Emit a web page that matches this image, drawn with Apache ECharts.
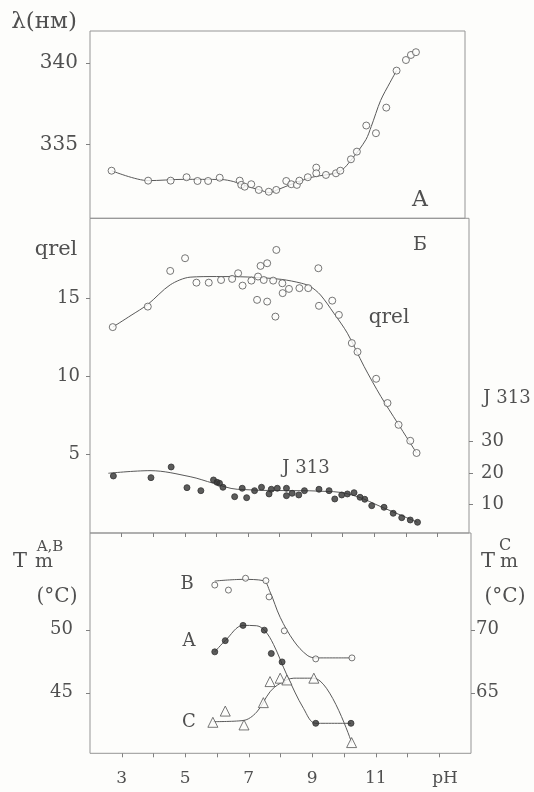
<!DOCTYPE html>
<html><head><meta charset="utf-8">
<script src="https://cdn.jsdelivr.net/npm/echarts@6/dist/echarts.min.js"></script>
<style>html,body{margin:0;padding:0;background:#fdfdfb;}#c{width:534px;height:792px;}</style>
</head><body><div id="c"></div>
<script>
const FONT = '"DejaVu Serif", "Liberation Serif", serif';
const INK = '#505050';

// Panel A: emission maximum lambda (nm) vs pH
const lambdaPH  = [2.69,3.86,4.58,5.09,5.44,5.78,6.15,6.79,6.84,6.95,7.16,7.40,7.72,7.96,8.28,8.44,8.62,8.70,8.97,9.24,9.24,9.55,9.87,10.01,10.35,10.54,10.84,11.15,11.48,11.81,12.11,12.27,12.43];
const lambdaVal = [333.39,332.78,332.78,332.99,332.76,332.76,332.96,332.78,332.52,332.41,332.56,332.21,332.10,332.21,332.76,332.56,332.52,332.78,332.99,333.58,333.23,333.13,333.23,333.39,334.09,334.56,336.16,335.69,337.26,339.53,340.18,340.49,340.66];
const lambdaFitPH  = [2.69,3.86,5.0,6.2,6.6,7.0,7.43,7.74,8.04,8.5,9.13,9.98,10.4,10.83,11.0,11.3,11.6,11.81];
const lambdaFitVal = [333.39,332.78,332.86,332.85,332.72,332.45,332.21,332.05,332.25,332.6,333.0,333.33,334.15,335.3,336.1,337.7,338.8,339.53];

// Panel B: qrel (left axis) and J313 (right axis)
const qrelPH  = [2.72,3.83,4.54,5.01,5.37,5.76,6.15,6.50,6.69,6.83,7.11,7.29,7.32,7.40,7.50,7.61,7.61,7.80,7.87,7.90,8.09,8.10,8.30,8.63,8.91,9.23,9.25,9.67,9.88,10.29,10.47,11.06,11.42,11.77,12.14,12.34];
const qrelVal = [13.15,14.46,16.74,17.55,15.99,15.99,16.16,16.23,16.59,15.80,16.12,14.89,16.38,17.06,16.16,14.78,17.23,16.12,13.82,18.08,15.95,15.32,15.59,15.64,15.64,16.91,14.51,14.84,13.93,12.13,11.57,9.85,8.30,6.91,5.89,5.11];
const qrelFitPH  = [2.72,3.3,3.83,4.54,5.17,6.0,7.0,8.06,8.7,8.98,9.3,9.72,10.15,10.68,11.21,11.74,12.34];
const qrelFitVal = [13.15,13.9,14.6,15.85,16.34,16.38,16.35,16.2,15.95,15.74,15.2,14.04,12.76,10.63,8.72,7.02,5.11];

const j313PH  = [2.74,3.93,4.57,5.07,5.51,5.91,6.02,6.10,6.21,6.58,6.82,6.96,7.21,7.43,7.67,7.74,7.93,8.22,8.22,8.40,8.61,8.79,9.25,9.57,9.75,9.97,10.15,10.36,10.55,10.70,10.92,11.31,11.60,11.87,12.14,12.37];
const j313Val = [19.0,18.46,21.89,15.25,14.29,17.72,16.98,16.66,15.38,12.36,15.06,12.04,14.29,15.38,13.23,14.74,15.06,15.06,12.68,13.45,12.91,14.29,14.74,14.29,11.62,12.91,13.23,13.64,12.17,11.52,9.47,8.96,7.03,5.62,4.88,4.14];
const j313FitPH  = [2.58,3.90,5.17,5.91,6.66,9.72,10.47,11.21,12.37];
const j313FitVal = [19.87,20.71,18.78,16.66,14.73,13.96,12.36,9.15,4.14];

// Panel C: melting temperatures
const tmBPH  = [5.93,6.36,6.90,7.54,7.64,8.12,9.11,10.25];
const tmBVal = [53.55,53.15,54.09,53.90,52.61,49.92,47.69,47.77];
const tmBFitPH  = [5.93,6.82,7.46,7.67,7.99,8.42,8.84,9.11,10.25];
const tmBFitVal = [53.87,54.0,53.9,53.01,50.99,49.11,47.98,47.77,47.77];

const tmAPH  = [5.93,6.26,6.82,7.49,7.71,8.05,9.11,10.22];
const tmAVal = [48.25,49.14,50.35,49.97,48.12,47.45,42.58,42.58];
const tmAFitPH  = [5.93,6.26,6.82,7.25,7.51,7.78,8.20,8.73,9.11,10.22];
const tmAFitVal = [48.25,49.14,50.35,50.32,49.92,48.84,46.42,43.74,42.58,42.58];

const tmCPH  = [5.87,6.26,6.85,7.46,7.67,7.99,8.20,9.05,10.24];
const tmCVal = [62.66,63.55,62.45,64.22,65.89,66.16,66.02,66.16,61.05];
const tmCFitPH  = [5.87,6.82,7.25,7.67,7.99,8.42,9.05,10.24];
const tmCFitVal = [62.71,62.80,63.47,65.08,65.75,66.16,66.16,61.05];

// Axis ticks / labels
const xTickValues  = [3,4,5,6,7,8,9,10,11,12,13];
const xLabelValues = [3,5,7,9,11];
const lambdaTicks = [335,340];
const qrelTicks = [5,10,15];
const j313Ticks = [10,20,30];
const tmABTicks = [45,50];
const tmCTicks = [65,70];

const zip = (a,b) => a.map((v,i) => [v,b[i]]);

const frame = {show:true, borderColor:'#959595', borderWidth:1, backgroundColor:'transparent'};
const grids = [
  Object.assign({left:90, right:69, top:31, height:187.3}, frame),
  Object.assign({left:90, right:65, top:218.3, height:314.7}, frame),
  {left:90, right:65, top:441.7, height:93.5, show:false},
  Object.assign({left:90, right:63, top:533, height:220.3}, frame)
];
const tickStyle = {show:true, length:4, lineStyle:{color:'#808080', width:1}};
function xAx(gi, opts){
  return Object.assign({type:'value', gridIndex:gi, min:2, max:14, axisLine:{show:false}, splitLine:{show:false},
    axisTick:{show:false}, axisLabel:{show:false}}, opts||{});
}
const xAxes = [
  xAx(0),
  xAx(1, {axisTick:Object.assign({customValues:xTickValues}, tickStyle)}),
  xAx(2),
  xAx(3, {axisTick:Object.assign({customValues:xTickValues}, tickStyle),
    axisLabel:{show:true, customValues:xLabelValues, fontFamily:FONT, fontSize:17, color:INK, margin:17}})
];
function yAx(gi, min, max, ticks, pos, margin, fs){
  return {type:'value', gridIndex:gi, min:min, max:max, position:pos,
    axisLine:{show:false}, splitLine:{show:false},
    axisTick:Object.assign({customValues:ticks}, tickStyle),
    axisLabel:{show:true, customValues:ticks, fontFamily:FONT, fontSize:fs, color:INK, margin:margin}};
}
const yAxes = [
  yAx(0, 330.47, 341.96, lambdaTicks, 'left', 12, 20),
  yAx(1, 0, 20.1, qrelTicks, 'left', 10, 18),
  yAx(2, 0, 30, j313Ticks, 'right', 12, 18),
  yAx(3, 40.2, 57.68, tmABTicks, 'left', 17, 18),
  yAx(3, 60.2, 77.68, tmCTicks, 'right', 5, 18)
];

const lineS = {color:'#5a5a5a', width:1};
function fit(xi, yi, px, pv, smooth){
  return {type:'line', xAxisIndex:xi, yAxisIndex:yi, data:zip(px,pv), showSymbol:false, symbol:'none',
    smooth:smooth, lineStyle:lineS, silent:true, z:2};
}
function pts(xi, yi, px, pv, sym, size, filled){
  return {type:'scatter', xAxisIndex:xi, yAxisIndex:yi, data:zip(px,pv), symbol:sym, symbolSize:size,
    itemStyle:{color: filled ? '#333' : '#fdfdfb', borderColor: filled ? '#333' : '#555', borderWidth:1}, z:3};
}
const series = [
  fit(0,0,lambdaFitPH,lambdaFitVal,0.3),
  pts(0,0,lambdaPH,lambdaVal,'circle',7,false),
  fit(1,1,qrelFitPH,qrelFitVal,0.3),
  pts(1,1,qrelPH,qrelVal,'circle',7,false),
  fit(2,2,j313FitPH,j313FitVal,0.35),
  pts(2,2,j313PH,j313Val,'circle',6,true),
  fit(3,3,tmBFitPH,tmBFitVal,0.35),
  pts(3,3,tmBPH,tmBVal,'circle',6,false),
  fit(3,3,tmAFitPH,tmAFitVal,0.35),
  pts(3,3,tmAPH,tmAVal,'circle',6,true),
  fit(3,4,tmCFitPH,tmCFitVal,0.35),
  pts(3,4,tmCPH,tmCVal,'triangle',10,false)
];

function t(x, y, s, fs){
  return {type:'text', x:x, y:y, style:{text:s, fontFamily:FONT, fontSize:fs, fill:INK, align:'center', verticalAlign:'middle'}, z:10};
}
const graphics = [
  t(44, 22, 'λ(нм)', 23),
  t(420, 200, 'A', 22),
  t(56, 250, 'qrel', 21),
  t(420, 245, 'Б', 19),
  t(389, 318, 'qrel', 20),
  t(306, 468, 'J 313', 18),
  t(507, 398, 'J 313', 18),
  t(20, 562, 'T', 21),
  t(50, 547, 'A,B', 15),
  t(44, 562, 'm', 19),
  t(57, 597, '(°C)', 20),
  t(488, 562, 'T', 21),
  t(505, 546, 'C', 16),
  t(509, 562, 'm', 19),
  t(505, 597, '(°C)', 20),
  t(187, 584, 'B', 18),
  t(189, 641, 'A', 18),
  t(189, 722, 'C', 18),
  t(445, 779, 'pH', 17)
];

const chart = echarts.init(document.getElementById('c'), null, {renderer:'canvas'});
chart.setOption({
  backgroundColor:'#fdfdfb',
  animation:false,
  grid:grids, xAxis:xAxes, yAxis:yAxes, series:series,
  graphic:{elements:graphics}
});
</script>
</body></html>
